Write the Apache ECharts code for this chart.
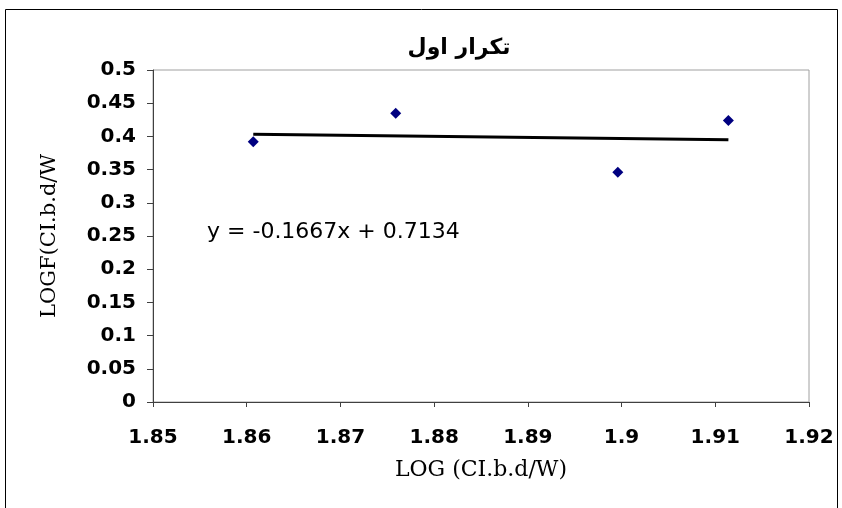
<!DOCTYPE html>
<html>
<head>
<meta charset="utf-8">
<script src="https://cdn.jsdelivr.net/npm/echarts@6/dist/echarts.min.js"></script>
<style>
html,body{margin:0;padding:0;background:#fff;}
#chart{width:842px;height:508px;}
</style>
</head>
<body>
<div id="chart"></div>
<script>
// ---- data ----
const titleText = 'تكرار اول';
const xAxisName = 'LOG (CI.b.d/W)';
const yAxisName = 'LOGF(CI.b.d/W';
const xValues = [1.8607, 1.8759, 1.8996, 1.9114];
const yValues = [0.392, 0.435, 0.346, 0.424];
const trendSlope = -0.1667;
const trendIntercept = 0.7134;
const equationText = 'y = -0.1667x + 0.7134';
const xMin = 1.85, xMax = 1.92, xStep = 0.01;
const yMin = 0, yMax = 0.5, yStep = 0.05;

const points = xValues.map((x, i) => [x, yValues[i]]);
const xFirst = Math.min(...xValues), xLast = Math.max(...xValues);
const trendPoints = [
  [xFirst, trendSlope * xFirst + trendIntercept],
  [xLast, trendSlope * xLast + trendIntercept]
];

const fmt = v => String(parseFloat(v.toFixed(4)));

const chart = echarts.init(document.getElementById('chart'), null, {renderer: 'canvas'});
chart.setOption({
  animation: false,
  backgroundColor: '#fff',
  title: {
    text: titleText,
    left: 454, top: 32,
    textAlign: 'center',
    textStyle: {fontFamily: 'DejaVu Sans', fontWeight: 'bold', fontSize: 22, color: '#000'}
  },
  grid: {
    left: 153, right: 33, top: 70, bottom: 106,
    show: true, borderColor: '#a0a0a0', borderWidth: 1, backgroundColor: '#fff'
  },
  xAxis: {
    type: 'value', min: xMin, max: xMax, interval: xStep,
    name: xAxisName, nameLocation: 'middle', nameGap: 57,
    nameTextStyle: {fontFamily: 'DejaVu Serif', fontSize: 22, color: '#000'},
    axisLine: {show: true, onZero: false, lineStyle: {color: '#404040', width: 1}},
    axisTick: {show: true, length: 5, lineStyle: {color: '#404040'}},
    splitLine: {show: false},
    axisLabel: {
      margin: 26, formatter: fmt,
      fontFamily: 'DejaVu Sans', fontWeight: 'bold', fontSize: 20, color: '#000'
    }
  },
  yAxis: {
    type: 'value', min: yMin, max: yMax, interval: yStep,
    name: yAxisName, nameLocation: 'middle', nameGap: 93, nameRotate: 90,
    nameTextStyle: {fontFamily: 'DejaVu Serif', fontSize: 21, color: '#000'},
    axisLine: {show: true, onZero: false, lineStyle: {color: '#404040', width: 1}},
    axisTick: {show: true, length: 6, lineStyle: {color: '#404040'}},
    splitLine: {show: false},
    axisLabel: {
      margin: 17, formatter: fmt,
      fontFamily: 'DejaVu Sans', fontWeight: 'bold', fontSize: 20, color: '#000'
    }
  },
  series: [
    {
      type: 'line', data: trendPoints, symbol: 'none',
      lineStyle: {color: '#000', width: 3}, z: 2, silent: true
    },
    {
      type: 'scatter', data: points, symbol: 'diamond', symbolSize: 11,
      itemStyle: {color: '#000080', opacity: 1}, z: 3
    }
  ],
  graphic: [
    {
      type: 'rect', shape: {x: 5.5, y: 9.5, width: 832, height: 520},
      style: {fill: 'none', stroke: '#000', lineWidth: 1}, z: -1, silent: true
    },
    {
      type: 'text', left: 207, top: 221,
      style: {text: equationText, font: '22px "DejaVu Sans"', fill: '#000'}
    }
  ]
});
</script>
</body>
</html>
